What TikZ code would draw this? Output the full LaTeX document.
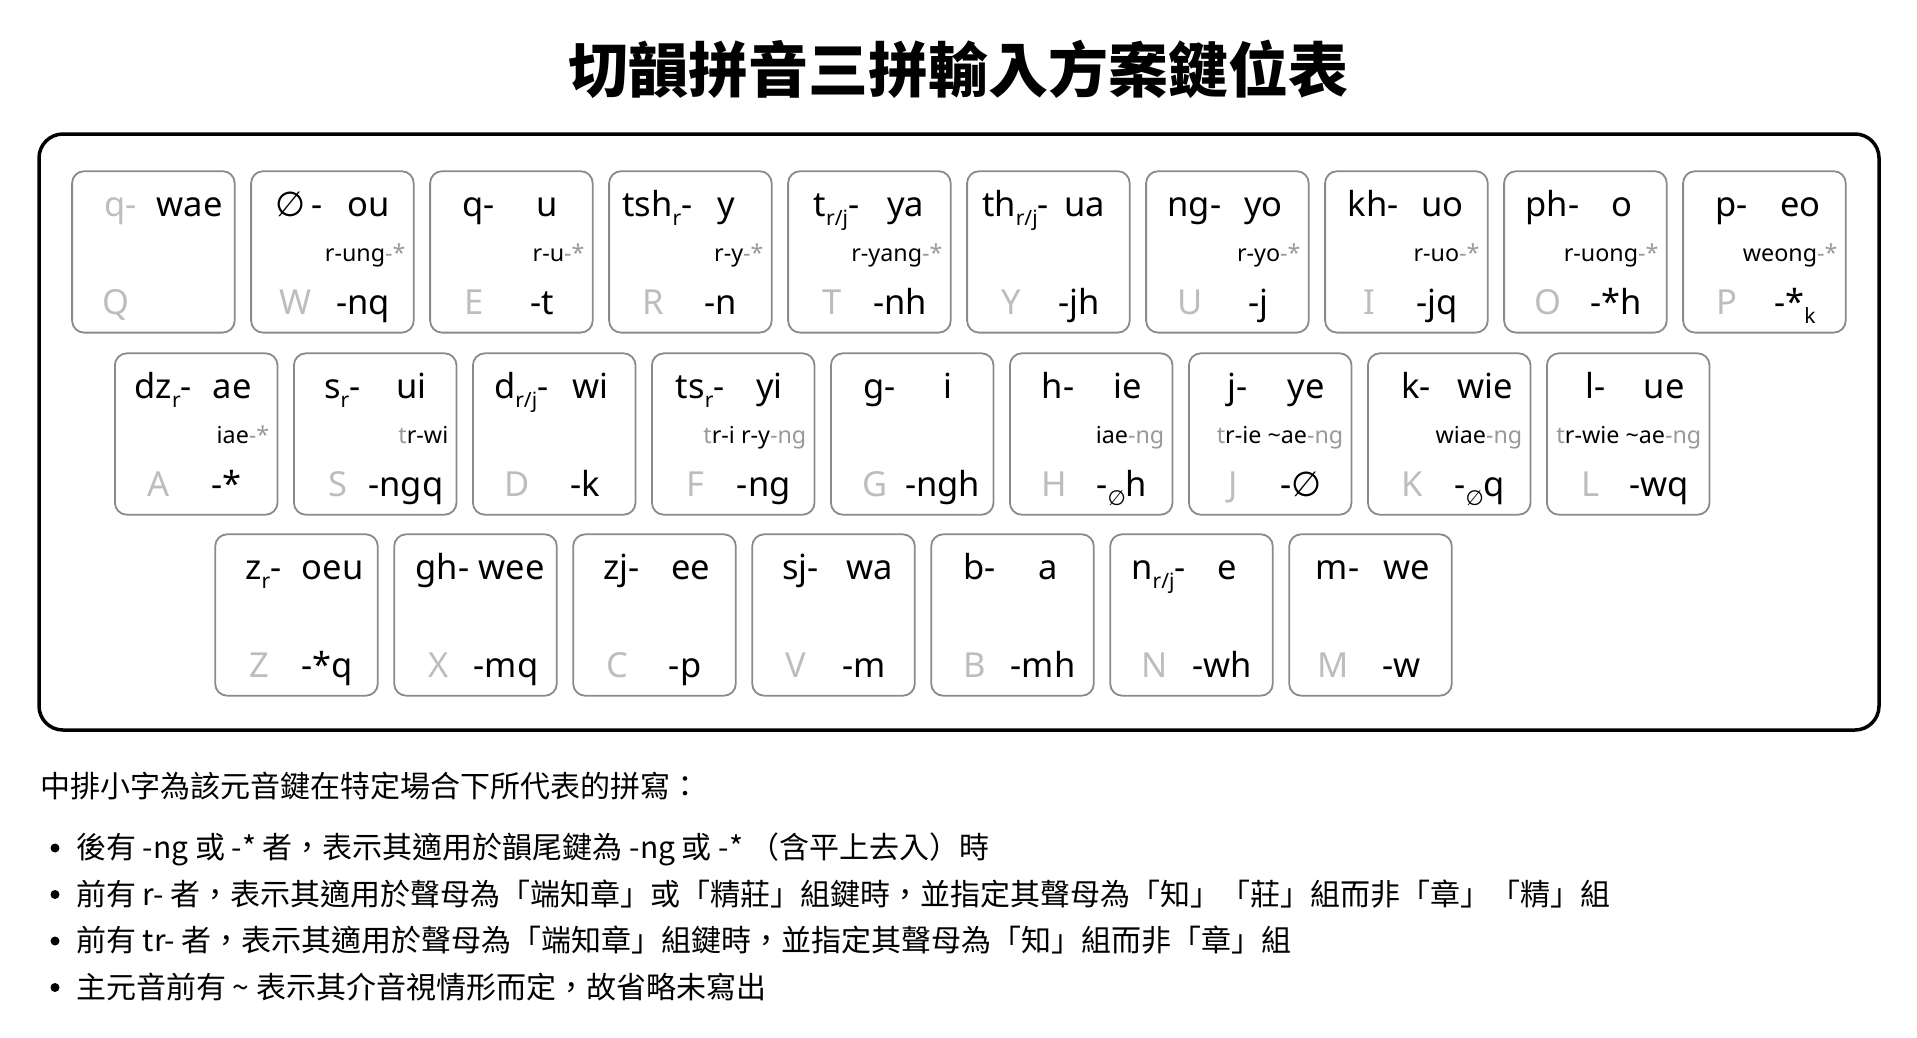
\documentclass[tikz,border=0pt]{standalone}
\usepackage{fontspec}
\setmainfont{Noto Sans}
\newfontfamily\cjk{Noto Sans CJK TC}
\newfontfamily\djv{DejaVu Sans}
\definecolor{lg}{HTML}{BDBDBD}
\definecolor{mg}{HTML}{999999}
\definecolor{kb}{HTML}{8A8A8A}
\newcommand\sbs[1]{\raisebox{-0.26em}{\fontsize{21}{21}\selectfont #1}}
\newcommand\ctx[1]{\textcolor{mg}{#1}}
\newcommand\emp{{\djv ∅}}
\tikzset{
  keybox/.style={draw=kb, line width=1.8pt, rounded corners=12pt, minimum width=162.6pt, minimum height=161.4pt, inner sep=0pt},
  topt/.style={anchor=base, inner sep=0pt, font=\fontsize{34.5}{40}\selectfont},
  midt/.style={anchor=base east, inner sep=0pt, font=\fontsize{23.3}{27}\selectfont},
  lett/.style={anchor=base, inner sep=0pt, text=lg, font=\fontsize{34.5}{40}\selectfont},
  note/.style={anchor=base west, inner sep=0pt, font=\cjk\fontsize{30}{36}\selectfont},
  dot/.style={circle, fill=black, inner sep=0pt, minimum size=9pt}
}
\newcommand\kcap[8]{%
  \begin{scope}[shift={(#2,#3)}]
    \node[keybox] (k#1) at (81.3,80.7) {};
    \node[topt] (k#1-ini) at (48.3,45) {#4};
    \node[topt] (k#1-fin) at (117.4,45) {#5};
    \node[midt] (k#1-mid) at (154.6,90.5) {#6};
    \node[lett] (k#1-let) at (44,143.5) {#7};
    \node[topt] (k#1-end) at (111.9,143.5) {#8};
  \end{scope}}
\begin{document}
\begin{tikzpicture}[x=1pt,y=-1pt]
\useasboundingbox (0,0) rectangle (1917,1037);
\node[font=\cjk\bfseries\fontsize{60}{66}\selectfont, inner sep=0pt] (title) at (958,69) {切韻拼音三拼輸入方案鍵位表};
\node[draw=black, line width=3.5pt, rounded corners=24pt, minimum width=1840pt, minimum height=596pt, inner sep=0pt] (frame) at (959,432) {};
% row 1
\kcap{Q}{72.1}{171.2}{\textcolor{lg}{q-}}{wae}{}{Q}{}
\kcap{W}{251.1}{171.2}{\emp\,-}{ou}{r-ung\ctx{-*}}{W}{-nq}
\kcap{E}{430.1}{171.2}{q-}{u}{r-u\ctx{-*}}{E}{-t}
\kcap{R}{609.1}{171.2}{tsh\sbs{r}-}{y}{r-y\ctx{-*}}{R}{-n}
\kcap{T}{788.1}{171.2}{t\sbs{r/j}-}{ya}{r-yang\ctx{-*}}{T}{-nh}
\kcap{Y}{967.1}{171.2}{th\sbs{r/j}-}{ua}{}{Y}{-jh}
\kcap{U}{1146.1}{171.2}{ng-}{yo}{r-yo\ctx{-*}}{U}{-j}
\kcap{I}{1325.1}{171.2}{kh-}{uo}{r-uo\ctx{-*}}{I}{-jq}
\kcap{O}{1504.1}{171.2}{ph-}{o}{r-uong\ctx{-*}}{O}{-*h}
\kcap{P}{1683.1}{171.2}{p-}{eo}{weong\ctx{-*}}{P}{-*\sbs{k}}
% row 2
\kcap{A}{114.9}{353.3}{dz\sbs{r}-}{ae}{iae\ctx{-*}}{A}{-*}
\kcap{S}{293.9}{353.3}{s\sbs{r}-}{ui}{\ctx{t}r-wi}{S}{-ngq}
\kcap{D}{472.9}{353.3}{d\sbs{r/j}-}{wi}{}{D}{-k}
\kcap{F}{651.9}{353.3}{ts\sbs{r}-}{yi}{\ctx{t}r-i r-y\ctx{-ng}}{F}{-ng}
\kcap{G}{830.9}{353.3}{g-}{i}{}{G}{-ngh}
\kcap{H}{1009.9}{353.3}{h-}{ie}{iae\ctx{-ng}}{H}{-\sbs{\djv ∅}h}
\kcap{J}{1188.9}{353.3}{j-}{ye}{\ctx{t}r-ie \textasciitilde ae\ctx{-ng}}{J}{-\emp}
\kcap{K}{1367.9}{353.3}{k-}{wie}{wiae\ctx{-ng}}{K}{-\sbs{\djv ∅}q}
\kcap{L}{1546.9}{353.3}{l-}{ue}{\ctx{t}r-wie \textasciitilde ae\ctx{-ng}}{L}{-wq}
% row 3
\kcap{Z}{215.2}{534.3}{z\sbs{r}-}{oeu}{}{Z}{-*q}
\kcap{X}{394.2}{534.3}{gh-}{wee}{}{X}{-mq}
\kcap{C}{573.2}{534.3}{zj-}{ee}{}{C}{-p}
\kcap{V}{752.2}{534.3}{sj-}{wa}{}{V}{-m}
\kcap{B}{931.2}{534.3}{b-}{a}{}{B}{-mh}
\kcap{N}{1110.2}{534.3}{n\sbs{r/j}-}{e}{}{N}{-wh}
\kcap{M}{1289.2}{534.3}{m-}{we}{}{M}{-w}
% notes
\node[note] (n0) at (40.3,797) {中排小字為該元音鍵在特定場合下所代表的拼寫：};
\node[dot] (b1) at (55,848) {};
\node[dot] (b2) at (55,894.5) {};
\node[dot] (b3) at (55,941) {};
\node[dot] (b4) at (55,987.5) {};
\node[note] (n1) at (75.8,858.8) {後有 -ng 或 -* 者，表示其適用於韻尾鍵為 -ng 或 -* （含平上去入）時};
\node[note] (n2) at (75.8,905.2) {前有 r- 者，表示其適用於聲母為「端知章」或「精莊」組鍵時，並指定其聲母為「知」「莊」組而非「章」「精」組};
\node[note] (n3) at (75.8,951.7) {前有 tr- 者，表示其適用於聲母為「端知章」組鍵時，並指定其聲母為「知」組而非「章」組};
\node[note] (n4) at (75.8,998.1) {主元音前有 \textasciitilde{} 表示其介音視情形而定，故省略未寫出};
\end{tikzpicture}
\end{document}
